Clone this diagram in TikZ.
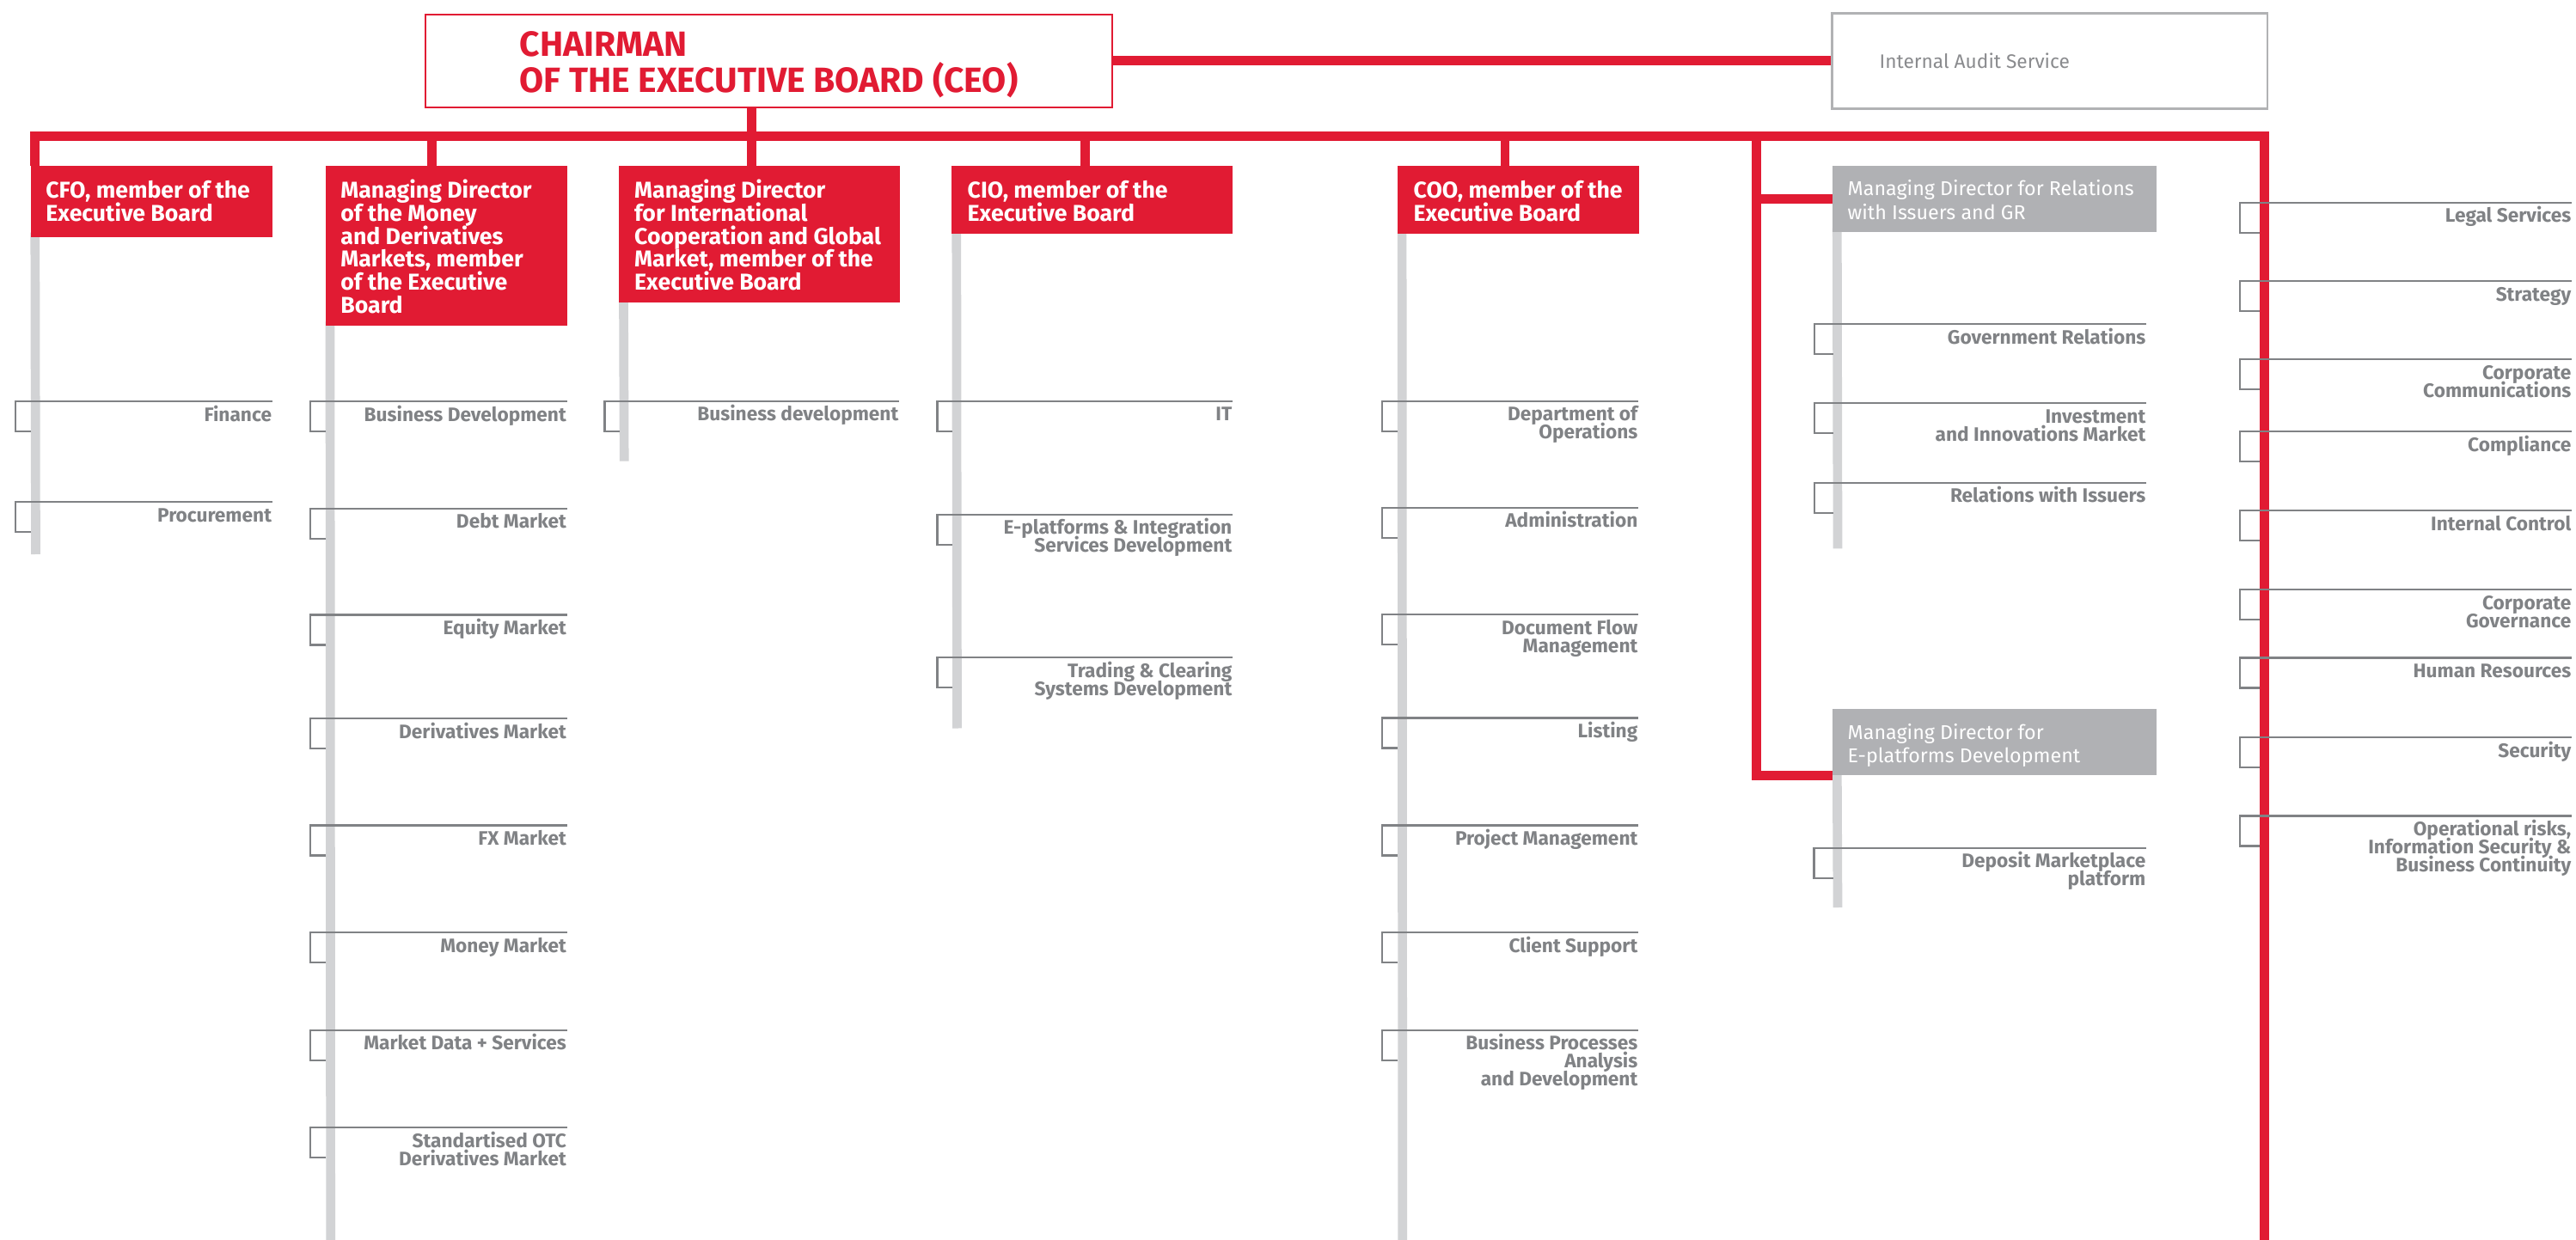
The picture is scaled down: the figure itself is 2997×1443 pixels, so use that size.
\documentclass[tikz,border=0pt]{standalone}
\usepackage{fontspec}
\setmainfont{Fira Sans}
\usetikzlibrary{calc,fit}
\definecolor{mxred}{HTML}{E11B33}
\definecolor{spinegray}{HTML}{D2D3D5}
\definecolor{itemgray}{HTML}{808285}
\definecolor{boxgray}{HTML}{B0B1B4}
\definecolor{auditgray}{HTML}{B1B2B4}
\definecolor{audittext}{HTML}{8A8B8E}
\lineskiplimit=-100pt
\newcommand\ceofont{\fontsize{11.6pt}{11.86pt}\selectfont\bfseries\lineskiplimit=-100pt}
\newcommand\redfont{\fontsize{7.58pt}{7.6pt}\selectfont\bfseries\lineskiplimit=-100pt}
\newcommand\grayfont{\fontsize{6.62pt}{7.68pt}\selectfont\lineskiplimit=-100pt}
\newcommand\auditfont{\fontsize{6.45pt}{7.68pt}\selectfont}
\newcommand\itemfont{\fontsize{6.45pt}{5.97pt}\selectfont\bfseries\lineskiplimit=-100pt}
\newcommand\stt[1]{\rule{0pt}{#1}}
\tikzset{
  redline/.style={draw=mxred, line width=3.04pt},
  spine/.style={draw=spinegray, line width=3.04pt},
  bracket/.style={draw=itemgray, line width=0.65pt},
  redtxt/.style={anchor=north west, inner sep=0pt, align=left, font=\redfont, text=white, yshift=7pt},
  graytxt/.style={anchor=north west, inner sep=0pt, align=left, font=\grayfont, text=white, yshift=7pt},
  ceotxt/.style={anchor=north west, inner sep=0pt, align=left, font=\ceofont, text=mxred, yshift=10pt},
  itemtxt/.style={anchor=north east, inner sep=0pt, align=right, font=\itemfont, text=itemgray, yshift=6pt}
}
% name, bracket x, spine left x, top y, right x, text
\newcommand\orgitem[6]{%
  \coordinate (#1-a) at (#5,#4);
  \draw[bracket] (#3,#4+35) -- (#2,#4+35) -- (#2,#4) -- (#1-a);
  \node[itemtxt] (#1) at (#5,#4+22.5) {\stt{6pt}#6};
}
\begin{document}
\begin{tikzpicture}[x=0.01cm, y=-0.01cm]
\useasboundingbox (0,0) rectangle (2997,1443);
\fill[white] (0,0) rectangle (2997,1443);

% box placement
\node[fit={(495.7,17.7) (1293,124)}, inner sep=0pt] (ceo) {};
\node[fit={(2132,16) (2637,125.7)}, inner sep=0pt] (audit) {};
\node[fit={(36.7,194) (316.7,275)}, inner sep=0pt] (cfo) {};
\node[fit={(380,194) (659.5,378.7)}, inner sep=0pt] (mdm) {};
\node[fit={(721,194) (1046,351.7)}, inner sep=0pt] (mdi) {};
\node[fit={(1108,194) (1433.5,271.7)}, inner sep=0pt] (cio) {};
\node[fit={(1627,194) (1906,271.7)}, inner sep=0pt] (coo) {};
\node[fit={(2133,194) (2508,269.7)}, inner sep=0pt] (mdr) {};
\node[fit={(2133,826) (2508,901.7)}, inner sep=0pt] (mde) {};

% spines
\draw[spine] ($(cfo.south west)+(4.8,-5)$) -- (41.5,645);
\draw[spine] ($(mdm.south west)+(4.7,-5)$) -- (384.7,1443);
\draw[spine] ($(mdi.south west)+(5.2,-5)$) -- (726.2,536.7);
\draw[spine] ($(cio.south west)+(5.5,-5)$) -- (1113.5,847.5);
\draw[spine] ($(coo.south west)+(4.8,-5)$) -- (1631.8,1443);
\draw[spine] ($(mdr.south west)+(5,-5)$) -- (2138,638.3);
\draw[spine] ($(mde.south west)+(5,-5)$) -- (2138,1056);

% red connectors
\coordinate (busR) at (2634.2,158.7);
\coordinate (dropM) at (502.7,158.7);
\coordinate (dropI) at (874.7,158.7);
\coordinate (dropC) at (1262.5,158.7);
\coordinate (dropO) at (1751,158.7);
\coordinate (dropR) at (2043.7,158.7);
\draw[redline] (ceo.east) -- (audit.west);
\draw[redline] ($(cfo.north west)+(4.8,0)$) |- (busR) -- (2634.2,1443);
\draw[redline] (dropI |- ceo.south) -- (dropI |- mdi.north);
\draw[redline] (dropM) -- (dropM |- mdm.north);
\draw[redline] (dropC) -- (dropC |- cio.north);
\draw[redline] (dropO) -- (dropO |- coo.north);
\draw[redline] (dropR) |- (mde.south west);
\draw[redline] (mdr.west) -- (mdr.west -| dropR);

% visible boxes
\draw[mxred, line width=0.5pt, fill=white] (ceo.north west) rectangle (ceo.south east);
\draw[auditgray, line width=0.7pt, fill=white] (audit.north west) rectangle (audit.south east);
\fill[mxred] (cfo.north west) rectangle (cfo.south east);
\fill[mxred] (mdm.north west) rectangle (mdm.south east);
\fill[mxred] (mdi.north west) rectangle (mdi.south east);
\fill[mxred] (cio.north west) rectangle (cio.south east);
\fill[mxred] (coo.north west) rectangle (coo.south east);
\fill[boxgray] (mdr.north west) rectangle (mdr.south east);
\fill[boxgray] (mde.north west) rectangle (mde.south east);

% box texts
\node[ceotxt] (ceo-t) at (604,65) {\stt{10pt}CHAIRMAN\\OF THE EXECUTIVE BOARD (CEO)};
\node[anchor=base west, inner sep=0pt, font=\auditfont, text=audittext] (audit-t) at (2186,80) {Internal Audit Service};
\node[redtxt] (cfo-t) at (52.7,230) {\stt{7pt}CFO, member of the\\Executive Board};
\node[redtxt] (mdm-t) at (395.7,230) {\stt{7pt}Managing Director\\of the Money\\and Derivatives\\Markets, member\\of the Executive\\Board};
\node[redtxt] (mdi-t) at (737.5,230) {\stt{7pt}Managing Director\\for International\\Cooperation and Global\\Market, member of the\\Executive Board};
\node[redtxt] (cio-t) at (1125,230) {\stt{7pt}CIO, member of the\\Executive Board};
\node[redtxt] (coo-t) at (1644,230) {\stt{7pt}COO, member of the\\Executive Board};
\node[graytxt] (mdr-t) at (2149,227.3) {\stt{7pt}Managing Director for Relations\\with Issuers and GR};
\node[graytxt] (mde-t) at (2149,860) {\stt{7pt}Managing Director for\\E-platforms Development};

% CFO items
\orgitem{fin}{18.3}{36.15}{467.3}{316.7}{Finance}
\orgitem{proc}{18.3}{36.15}{584.3}{316.7}{Procurement}
% MD money items
\orgitem{bd}{360.7}{379.35}{467.3}{659.5}{Business Development}
\orgitem{debt}{360.7}{379.35}{591.7}{659.5}{Debt Market}
\orgitem{eq}{360.7}{379.35}{715.4}{659.5}{Equity Market}
\orgitem{der}{360.7}{379.35}{836}{659.5}{Derivatives Market}
\orgitem{fx}{360.7}{379.35}{960.4}{659.5}{FX Market}
\orgitem{mm}{360.7}{379.35}{1085}{659.5}{Money Market}
\orgitem{mdata}{360.7}{379.35}{1198.7}{659.5}{Market Data + Services}
\orgitem{otc}{360.7}{379.35}{1312.3}{659.5}{Standartised OTC\\Derivatives Market}
% MD international
\orgitem{bdev}{703.4}{720.85}{466.7}{1046}{Business development}
% CIO
\orgitem{it}{1090.6}{1108.15}{466.7}{1434}{IT}
\orgitem{epl}{1090.6}{1108.15}{598.7}{1434}{E-platforms \& Integration\\Services Development}
\orgitem{trd}{1090.6}{1108.15}{765.2}{1434}{Trading \& Clearing\\Systems Development}
% COO
\orgitem{dops}{1608}{1626.45}{466.7}{1906}{Department of\\Operations}
\orgitem{adm}{1608}{1626.45}{590.7}{1906}{Administration}
\orgitem{doc}{1608}{1626.45}{715}{1906}{Document Flow\\Management}
\orgitem{lst}{1608}{1626.45}{835.6}{1906}{Listing}
\orgitem{pm}{1608}{1626.45}{960.4}{1906}{Project Management}
\orgitem{cs}{1608}{1626.45}{1085}{1906}{Client Support}
\orgitem{bpa}{1608}{1626.45}{1198.7}{1906}{Business Processes\\Analysis\\and Development}
% MD relations
\orgitem{gr}{2110.7}{2132.65}{377.3}{2497}{Government Relations}
\orgitem{inv}{2110.7}{2132.65}{469}{2497}{Investment\\and Innovations Market}
\orgitem{rwi}{2110.7}{2132.65}{561.7}{2497}{Relations with Issuers}
% MD e-platforms
\orgitem{dep}{2110.5}{2132.65}{986.7}{2497}{Deposit Marketplace\\platform}
% right column
\orgitem{legal}{2606}{2628.85}{235.7}{2992}{Legal Services}
\orgitem{strat}{2606}{2628.85}{327.3}{2992}{Strategy}
\orgitem{ccom}{2606}{2628.85}{418.3}{2992}{Corporate\\Communications}
\orgitem{comp}{2606}{2628.85}{502.3}{2992}{Compliance}
\orgitem{ictl}{2606}{2628.85}{594.3}{2992}{Internal Control}
\orgitem{cgov}{2606}{2628.85}{686.2}{2992}{Corporate\\Governance}
\orgitem{hr}{2606}{2628.85}{765.5}{2992}{Human Resources}
\orgitem{sec}{2606}{2628.85}{857.8}{2992}{Security}
\orgitem{opr}{2606}{2628.85}{949.5}{2992}{Operational risks,\\Information Security \&\\Business Continuity}
\end{tikzpicture}
\end{document}
